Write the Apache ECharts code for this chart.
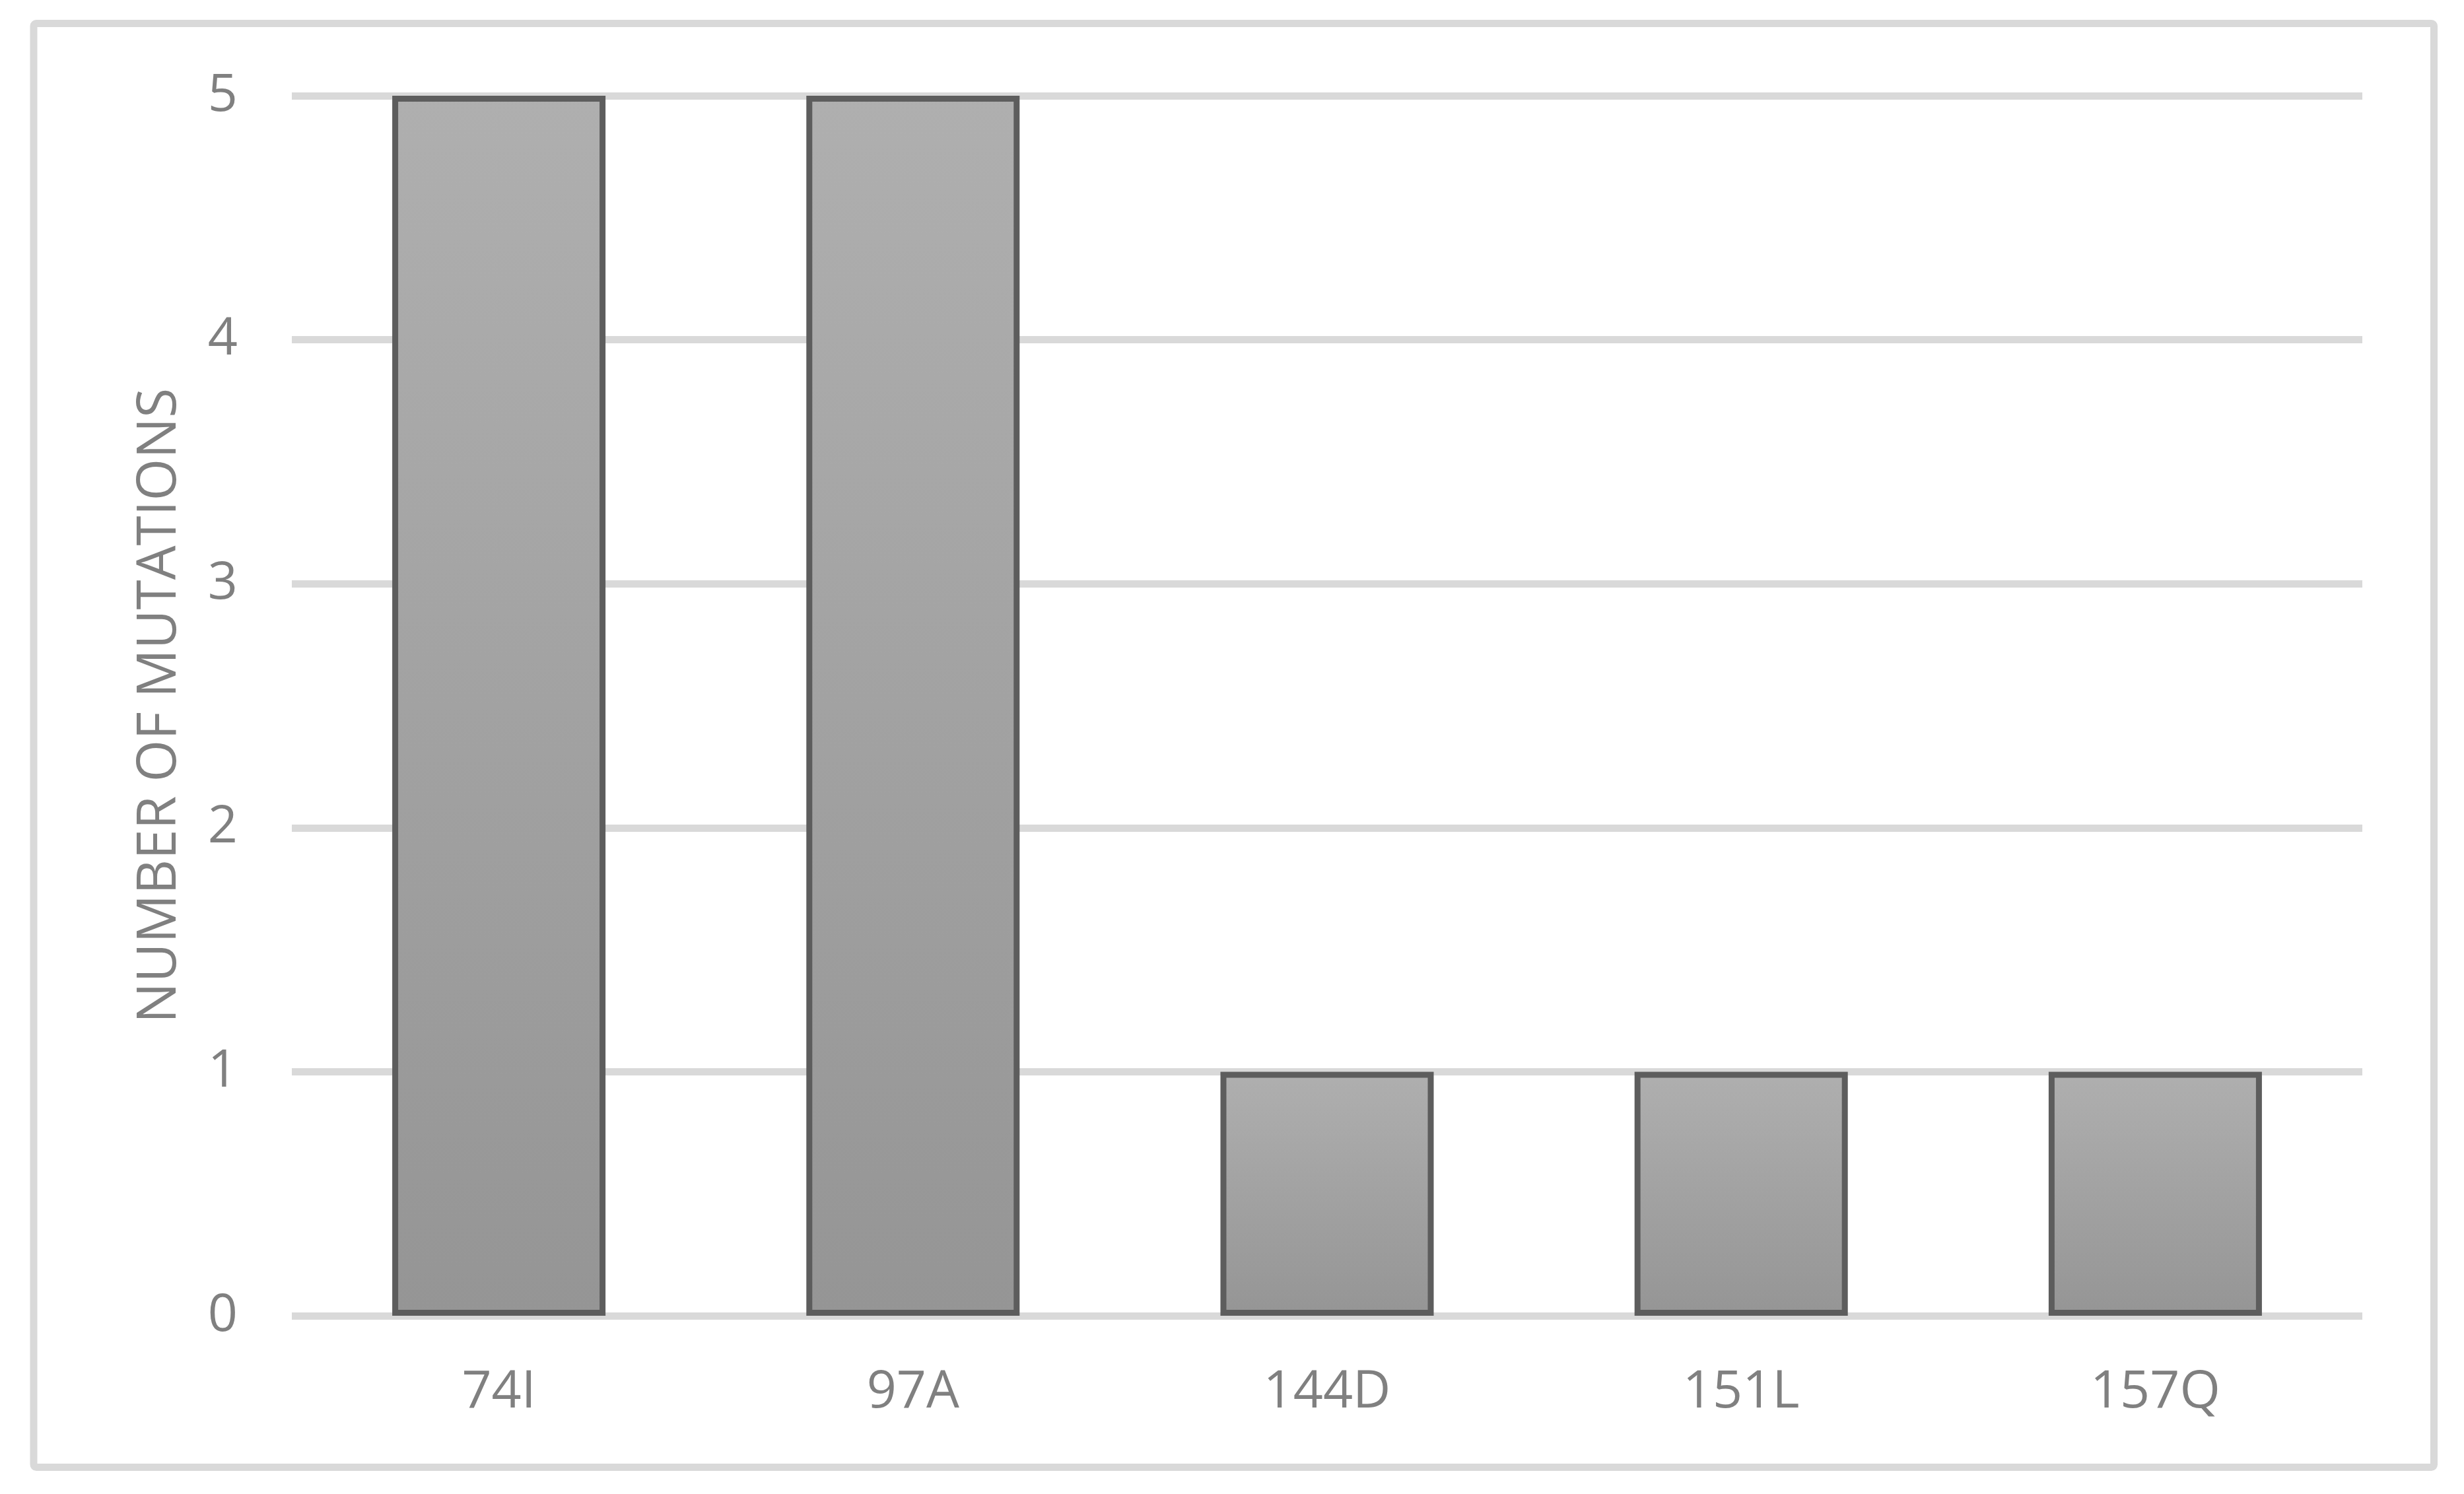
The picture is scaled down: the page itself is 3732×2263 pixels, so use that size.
<!DOCTYPE html>
<html><head><meta charset="utf-8">
<script src="https://cdn.jsdelivr.net/npm/echarts@6/dist/echarts.min.js"></script>
<style>html,body{margin:0;padding:0;background:#fff}#c{width:3732px;height:2263px}</style>
</head><body><div id="c"></div>
<script>
const categories = ['74I', '97A', '144D', '151L', '157Q'];
const mutationCounts = [5, 5, 1, 1, 1];
const yTicks = [0, 1, 2, 3, 4, 5];
const yAxisTitle = 'NUMBER OF MUTATIONS';

const chart = echarts.init(document.getElementById('c'), null, {renderer: 'canvas'});
const font = '"Open Sans", Lato, sans-serif';
chart.setOption({
  backgroundColor: '#ffffff',
  animation: false,
  graphic: [{
    type: 'rect', z: -1,
    shape: {x: 51, y: 35.5, width: 3635.5, height: 2187, r: 4},
    style: {fill: 'none', stroke: '#d9d9d9', lineWidth: 11}
  }],
  grid: {left: 442, right: 154, top: 145, bottom: 270, containLabel: false},
  xAxis: {
    type: 'category', data: categories,
    axisLine: {show: false}, axisTick: {show: false},
    axisLabel: {color: '#808080', fontSize: 79, fontFamily: font, margin: 77}
  },
  yAxis: {
    type: 'value', min: yTicks[0], max: yTicks[yTicks.length - 1], interval: 1,
    name: yAxisTitle, nameLocation: 'middle', nameRotate: 90, nameGap: 158,
    nameTextStyle: {color: '#808080', fontSize: 82, fontFamily: font},
    axisLine: {show: false}, axisTick: {show: false},
    axisLabel: {color: '#808080', fontSize: 79, fontFamily: font, margin: 82},
    splitLine: {lineStyle: {color: '#d9d9d9', width: 11}}
  },
  series: [{
    type: 'bar', data: mutationCounts, barWidth: '51.5%',
    itemStyle: {
      color: new echarts.graphic.LinearGradient(0, 0, 0, 1, [
        {offset: 0, color: '#afafaf'}, {offset: 1, color: '#959595'}
      ]),
      borderColor: '#5d5d5d', borderWidth: 9
    }
  }]
});
</script></body></html>
